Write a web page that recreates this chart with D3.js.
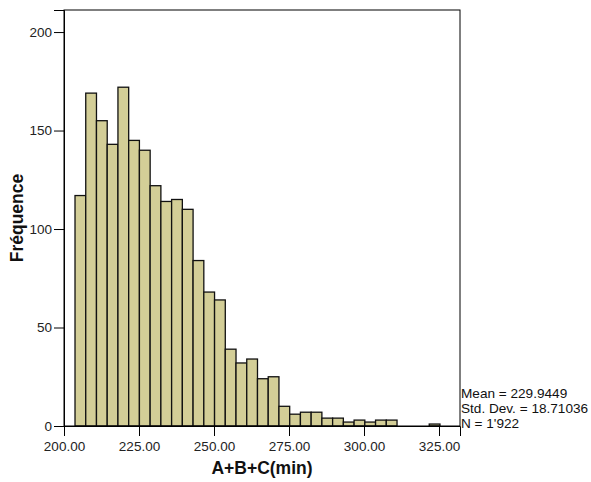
<!DOCTYPE html>
<html>
<head>
<meta charset="utf-8">
<script src="https://cdn.jsdelivr.net/npm/d3@7"></script>
<style>
  body { margin: 0; background: #fff; }
  svg { display: block; font-family: Arial, "Liberation Sans", sans-serif; }
</style>
</head>
<body>
<div id="chart"></div>
<script>
// histogram counts, 34 equal bins
var counts = [117, 169, 155, 143, 172, 145, 140, 122, 114, 115, 110, 84, 68, 64, 39, 32, 34, 24, 25, 10,
  6, 7, 7, 4, 4, 2, 3, 2, 3, 3, 0, 0, 0, 1];
var binStart = 203.67;
var binWidth = 3.578;
var xTicks = [200, 225, 250, 275, 300, 325];
var yTicks = [0, 50, 100, 150, 200];
var stats = ["Mean = 229.9449", "Std. Dev. = 18.71036", "N = 1'922"];

var W = 591, H = 482;
var margin = { top: 10, right: 131, bottom: 56, left: 64 },
  width = W - margin.left - margin.right,
  height = H - margin.top - margin.bottom;

var svg = d3.select("#chart").append("svg").attr("width", W).attr("height", H);
var g = svg.append("g").attr("transform", "translate(" + margin.left + "," + margin.top + ")");

var x = d3.scaleLinear().domain([200, 332]).range([0, width]);
var y = d3.scaleLinear().domain([0, 211.2]).range([height, 0]);

var bins = counts.map(function (c, i) {
  return { x0: binStart + i * binWidth, x1: binStart + (i + 1) * binWidth, n: c };
});

g.selectAll("rect.bar")
  .data(bins)
  .enter().append("rect")
  .attr("class", "bar")
  .attr("x", function (d) { return x(d.x0); })
  .attr("y", function (d) { return y(d.n); })
  .attr("width", function (d) { return x(d.x1) - x(d.x0); })
  .attr("height", function (d) { return height - y(d.n); })
  .attr("fill", "#d3ce97")
  .attr("stroke", "#111")
  .attr("stroke-width", 1.3);

// frame
g.append("rect")
  .attr("x", 0).attr("y", 0)
  .attr("width", width).attr("height", height)
  .attr("fill", "none")
  .attr("stroke", "#000")
  .attr("stroke-width", 1);

var xAxis = g.append("g")
  .attr("transform", "translate(0," + height + ")")
  .call(d3.axisBottom(x).tickValues(xTicks).tickSize(10).tickPadding(5).tickFormat(d3.format(".2f")));
var yAxis = g.append("g")
  .call(d3.axisLeft(y).tickValues(yTicks).tickSize(10).tickPadding(2).tickFormat(d3.format("d")));

[xAxis, yAxis].forEach(function (a) {
  a.select(".domain").attr("stroke", "#000");
  a.selectAll("line").attr("stroke", "#000");
  a.selectAll("text").attr("fill", "#222").style("font-size", "13.5px")
    .style("font-family", "Arial, 'Liberation Sans', sans-serif");
});

g.append("text")
  .attr("x", width / 2)
  .attr("y", height + 48)
  .attr("text-anchor", "middle")
  .style("font-size", "17.5px")
  .style("font-weight", "bold")
  .attr("fill", "#111")
  .text("A+B+C(min)");

svg.append("text")
  .attr("transform", "translate(23," + (margin.top + height / 2) + ") rotate(-90)")
  .attr("text-anchor", "middle")
  .style("font-size", "17.5px")
  .style("font-weight", "bold")
  .attr("fill", "#111")
  .text("Fréquence");

svg.selectAll("text.stat")
  .data(stats)
  .enter().append("text")
  .attr("class", "stat")
  .attr("x", margin.left + width + 1)
  .attr("y", function (d, i) { return margin.top + height - 28 + i * 15; })
  .style("font-size", "13.6px")
  .attr("fill", "#111")
  .text(function (d) { return d; });
</script>
</body>
</html>
